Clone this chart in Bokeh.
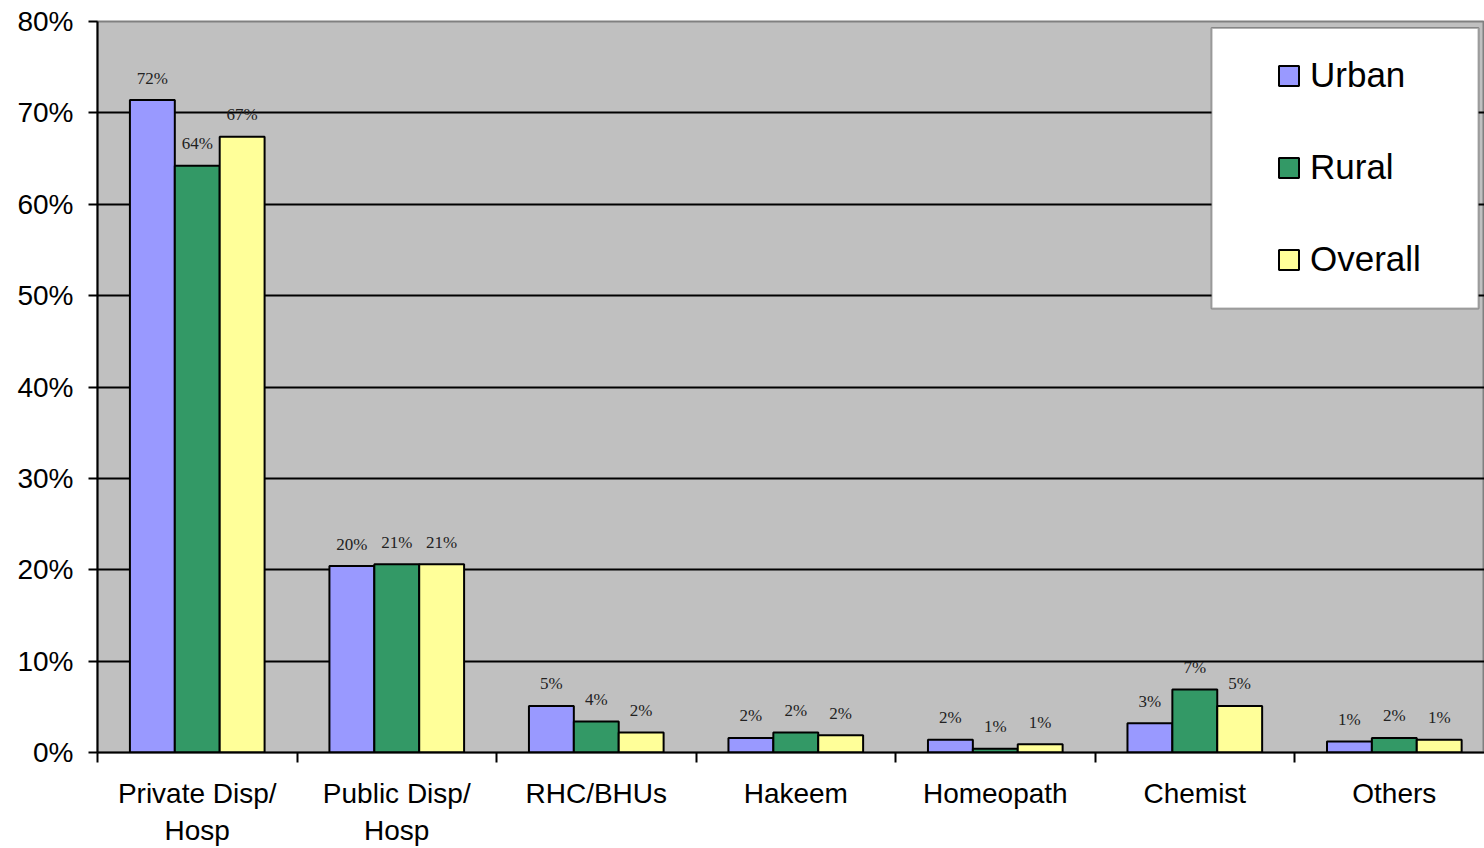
from bokeh.plotting import figure
from bokeh.models import (Range1d, FixedTicker, PrintfTickFormatter, ColumnDataSource,
                          BoxAnnotation, Legend, LegendItem)
from bokeh.core.properties import value
from bokeh.embed import file_html
from bokeh.resources import INLINE

categories = ["Private Disp/\nHosp", "Public Disp/\nHosp", "RHC/BHUs", "Hakeem",
              "Homeopath", "Chemist", "Others"]
urban = [71.4, 20.4, 5.1, 1.6, 1.4, 3.2, 1.2]
rural = [64.2, 20.6, 3.4, 2.2, 0.4, 6.9, 1.6]
overall = [67.4, 20.6, 2.2, 1.9, 0.9, 5.1, 1.4]
urban_labels = ["72%", "20%", "5%", "2%", "2%", "3%", "1%"]
rural_labels = ["64%", "21%", "4%", "2%", "1%", "7%", "2%"]
overall_labels = ["67%", "21%", "2%", "2%", "1%", "5%", "1%"]
y_ticks = [0, 10, 20, 30, 40, 50, 60, 70, 80]

series = [("Urban", urban, urban_labels, "#9999FF", -0.225),
          ("Rural", rural, rural_labels, "#339966", 0.0),
          ("Overall", overall, overall_labels, "#FFFF99", 0.225)]

p = figure(width=1484, height=848, output_backend="svg", toolbar_location=None,
           x_range=Range1d(0, 6.952), y_range=Range1d(0, 80),
           min_border_left=97, min_border_right=0, min_border_top=21, min_border_bottom=93)
p.background_fill_color = "#C0C0C0"
p.border_fill_color = "white"
p.outline_line_color = "#808080"
p.outline_line_width = 2

centers = [i + 0.5 for i in range(len(categories))]
renderers = []
for name, vals, labs, color, off in series:
    src = ColumnDataSource(dict(x=[c + off for c in centers], top=vals, lab=labs))
    r = p.vbar(x="x", top="top", width=0.225, source=src, fill_color=color,
               line_color="black", line_width=2)
    renderers.append((name, r))
    p.text(x="x", y="top", text="lab", source=src, y_offset=-22,
           text_align="center", text_baseline="middle",
           text_font=value("Liberation Serif"), text_font_size="17px",
           text_color="#222222")

# grid
p.xgrid.grid_line_color = None
p.ygrid.ticker = FixedTicker(ticks=y_ticks)
p.ygrid.grid_line_color = "black"
p.ygrid.grid_line_width = 2

# y axis
p.yaxis.ticker = FixedTicker(ticks=y_ticks)
p.yaxis.formatter = PrintfTickFormatter(format="%d%%")
p.yaxis.major_label_text_font = "Liberation Sans"
p.yaxis.major_label_text_font_size = "28px"
p.yaxis.major_label_text_color = "black"
p.yaxis.axis_line_color = "black"
p.yaxis.axis_line_width = 2
p.yaxis.major_tick_line_color = "black"
p.yaxis.major_tick_line_width = 2
p.yaxis.major_tick_out = 9
p.yaxis.major_tick_in = 0
p.yaxis.minor_tick_line_color = None
p.yaxis.major_label_standoff = 15

# x axis
p.xaxis.ticker = FixedTicker(ticks=centers, minor_ticks=list(range(len(categories) + 1)))
p.xaxis.major_label_overrides = {c: lab for c, lab in zip(centers, categories)}
p.xaxis.major_label_text_font = "Liberation Sans"
p.xaxis.major_label_text_font_size = "28px"
p.xaxis.major_label_text_color = "black"
p.xaxis.major_tick_line_color = None
p.xaxis.major_tick_out = 0
p.xaxis.major_tick_in = 0
p.xaxis.minor_tick_line_color = "black"
p.xaxis.minor_tick_line_width = 2
p.xaxis.minor_tick_out = 10
p.xaxis.minor_tick_in = 0
p.xaxis.axis_line_color = "black"
p.xaxis.axis_line_width = 2
p.xaxis.major_label_standoff = 15

# legend box
box = BoxAnnotation(left=5.584, right=6.922, top=79.3, bottom=48.6,
                    fill_color="white", fill_alpha=1.0, line_color="black", line_width=2)
p.add_layout(box)

legend = Legend(items=[LegendItem(label=n, renderers=[r]) for n, r in renderers],
                location=(1179, 472), orientation="vertical",
                background_fill_alpha=0, border_line_color=None,
                padding=0, margin=0, spacing=50,
                glyph_width=25, glyph_height=25, label_height=42,
                label_standoff=9,
                label_text_font="Liberation Sans", label_text_font_size="35px",
                label_text_color="black")
p.add_layout(legend)

open("out.html", "w").write(file_html(p, INLINE))
